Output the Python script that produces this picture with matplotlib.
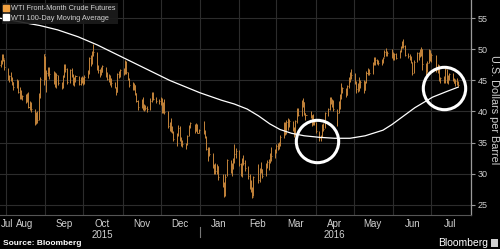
import matplotlib
matplotlib.use('Agg')
import matplotlib.pyplot as plt
import matplotlib.dates as mdates
import matplotlib.ticker as mticker
from matplotlib.lines import Line2D
from matplotlib.patches import Rectangle
import pandas as pd

# ---------------- data ----------------
holidays = ['2015-09-07', '2015-11-26', '2015-12-25', '2016-01-01', '2016-01-18',
            '2016-02-15', '2016-03-25', '2016-05-30', '2016-07-04']
dates = pd.bdate_range('2015-07-27', '2016-07-22')
dates = dates[~dates.isin(pd.to_datetime(holidays))]

close = [
    47.39, 47.98, 48.79, 48.52, 47.12,
    45.17, 45.74, 45.15, 44.66, 43.87,
    44.96, 43.08, 43.30, 42.23, 42.50,
    41.87, 42.62, 40.80, 41.14, 40.45,
    38.24, 39.31, 38.60, 42.56, 45.22,
    49.20, 45.41, 46.25, 46.75, 46.05,
    45.94, 44.15, 45.92, 44.63,
    44.00, 45.59, 47.15, 46.90, 44.68,
    46.68, 45.83, 44.48, 45.22, 45.70,
    44.43, 45.23, 45.09, 44.74, 45.54,
    46.26, 48.53, 47.81, 49.43, 49.63,
    47.10, 46.66, 46.64, 46.38, 47.26,
    45.89, 45.29, 45.20, 44.38, 44.60,
    43.98, 43.20, 45.94, 46.06, 46.59,
    46.14, 47.90, 46.32, 45.20, 44.29,
    43.87, 44.21, 42.93, 41.75, 40.74,
    41.74, 40.67, 40.75, 40.54, 40.39,
    41.75, 42.87, 42.04, 41.71,
    41.65, 41.85, 39.94, 41.08, 39.97,
    37.65, 37.51, 37.16, 36.76, 35.62,
    36.31, 37.35, 35.52, 34.95, 34.73,
    34.74, 36.14, 37.50, 38.10,
    36.81, 37.87, 36.60, 37.04,
    36.76, 35.97, 33.97, 33.27, 33.16,
    31.41, 30.44, 30.48, 31.20, 29.42,
    28.46, 26.55, 29.53, 32.19,
    30.34, 31.45, 32.30, 33.22, 33.62,
    31.62, 29.88, 32.28, 31.72, 30.89,
    29.69, 27.94, 27.45, 26.21, 29.44,
    29.04, 30.66, 30.77, 29.64,
    31.48, 31.87, 32.15, 33.07, 32.78,
    33.75, 34.40, 34.66, 34.57, 35.92,
    37.90, 36.50, 38.29, 37.84, 38.50,
    37.18, 36.34, 38.46, 40.20, 39.44,
    41.52, 41.45, 39.79, 39.46,
    39.39, 38.28, 38.32, 38.34, 36.79,
    35.70, 35.89, 37.75, 37.26, 39.72,
    40.36, 42.17, 41.76, 41.50, 40.36,
    39.78, 41.08, 42.63, 43.18, 43.73,
    42.64, 44.04, 45.33, 46.03, 45.92,
    44.78, 43.65, 43.78, 44.32, 44.66,
    43.44, 44.66, 46.23, 46.70, 46.21,
    47.72, 48.31, 48.19, 48.16, 47.75,
    48.08, 48.62, 49.56, 49.48, 49.33,
    49.10, 49.01, 49.17, 48.62,
    49.69, 50.36, 51.23, 50.56, 49.07,
    48.88, 48.49, 48.01, 46.21, 47.98,
    49.37, 48.85, 49.13, 50.11, 47.64,
    46.33, 47.85, 49.88, 48.33, 48.99,
    46.60, 47.43, 45.14, 45.41,
    44.76, 46.80, 44.75, 45.68, 45.95,
    45.24, 44.65, 44.94, 44.75, 44.19,
]

low = [
    47.20, 47.10, 47.60, 48.10, 46.70,
    45.00, 44.80, 44.90, 44.30, 43.40,
    43.70, 42.90, 42.00, 42.00, 41.90,
    41.40, 41.60, 40.50, 40.30, 39.90,
    37.75, 38.00, 38.10, 38.60, 42.20,
    44.20, 45.00, 43.20, 45.70, 45.20,
    44.40, 44.00, 43.80, 44.30,
    43.60, 43.70, 45.50, 46.40, 44.40,
    44.50, 45.60, 44.30, 44.10, 44.80,
    44.20, 44.30, 44.60, 44.20, 44.40,
    45.30, 46.00, 47.30, 47.70, 48.90,
    46.70, 46.20, 45.50, 45.90, 46.30,
    45.60, 45.00, 44.70, 44.20, 44.00,
    43.70, 42.60, 43.10, 45.40, 45.60,
    45.90, 46.00, 46.00, 45.00, 44.00,
    43.50, 43.40, 42.60, 41.50, 40.20,
    40.50, 40.30, 40.00, 40.20, 39.90,
    40.20, 41.60, 41.80, 41.30,
    41.20, 41.00, 39.70, 39.80, 39.60,
    37.30, 36.80, 36.70, 36.50, 35.20,
    34.50, 36.00, 35.30, 34.50, 34.30,
    34.00, 34.60, 36.00, 37.30,
    36.60, 36.80, 36.50, 36.50,
    36.40, 35.70, 33.80, 32.10, 32.80,
    30.90, 29.90, 29.90, 30.00, 29.00,
    27.90, 26.20, 26.50, 29.70,
    30.10, 29.70, 30.70, 31.70, 32.60,
    31.20, 29.60, 29.50, 31.40, 30.50,
    29.20, 27.50, 27.10, 26.05, 26.40,
    28.50, 28.60, 30.10, 29.30,
    29.60, 30.90, 30.60, 31.80, 32.10,
    32.60, 33.30, 33.80, 34.00, 34.40,
    35.80, 36.20, 36.40, 37.10, 37.50,
    36.80, 35.90, 36.30, 38.10, 39.20,
    39.20, 40.80, 39.50, 38.70,
    39.00, 37.70, 37.90, 37.90, 36.50,
    35.20, 35.20, 35.90, 36.80, 37.30,
    39.30, 40.20, 41.20, 40.70, 40.00,
    37.60, 39.80, 40.40, 42.00, 43.00,
    42.30, 42.60, 43.80, 44.80, 45.20,
    44.40, 43.00, 43.20, 43.30, 43.80,
    43.00, 43.50, 44.50, 45.90, 45.80,
    46.00, 47.50, 47.50, 47.60, 47.40,
    47.50, 47.80, 48.70, 48.90, 48.90,
    48.60, 48.20, 48.30, 48.40,
    48.60, 49.60, 50.20, 50.20, 48.90,
    48.60, 48.20, 47.80, 45.80, 46.20,
    48.00, 48.30, 48.70, 48.90, 46.70,
    45.80, 46.30, 47.80, 48.10, 48.00,
    46.30, 46.10, 44.90, 44.60,
    44.50, 44.60, 44.50, 44.40, 45.00,
    44.90, 44.50, 44.10, 44.20, 43.90,
]

high = [
    48.30, 48.20, 49.20, 49.30, 48.40,
    47.00, 45.90, 46.30, 45.60, 44.80,
    45.20, 45.10, 43.90, 43.40, 42.70,
    42.80, 42.90, 43.10, 41.70, 41.50,
    40.40, 39.90, 40.10, 42.90, 45.50,
    49.30, 48.90, 46.70, 47.20, 47.10,
    46.50, 46.40, 46.10, 45.80,
    44.80, 45.80, 47.60, 47.70, 47.00,
    46.90, 47.00, 46.00, 45.50, 45.90,
    45.70, 45.50, 45.70, 45.50, 45.80,
    46.60, 48.80, 49.10, 49.70, 50.90,
    49.50, 47.40, 46.90, 47.10, 47.50,
    47.10, 46.30, 46.00, 45.80, 45.40,
    44.80, 44.00, 46.20, 46.50, 46.80,
    47.00, 48.20, 48.10, 46.40, 45.40,
    44.80, 44.50, 44.30, 43.00, 41.90,
    42.00, 42.40, 41.20, 41.00, 40.90,
    42.10, 43.20, 43.10, 42.30,
    42.00, 42.30, 42.10, 41.60, 42.00,
    40.00, 38.30, 38.90, 37.60, 36.90,
    36.50, 37.80, 37.60, 35.90, 35.40,
    35.00, 36.30, 37.80, 38.30,
    38.00, 38.10, 38.00, 37.20,
    38.40, 37.00, 36.00, 34.30, 34.30,
    33.30, 31.60, 31.70, 31.50, 31.20,
    30.00, 28.70, 29.90, 32.40,
    32.20, 31.70, 32.60, 34.80, 34.10,
    33.80, 31.70, 32.60, 33.00, 32.20,
    31.30, 29.90, 29.00, 27.90, 29.70,
    31.50, 31.00, 31.90, 30.80,
    31.70, 32.20, 32.40, 33.40, 34.30,
    34.00, 34.70, 35.00, 35.10, 36.20,
    38.30, 38.30, 38.60, 38.90, 38.80,
    38.50, 37.50, 38.70, 40.60, 40.60,
    41.80, 42.10, 41.60, 39.80,
    40.00, 39.50, 39.60, 38.80, 38.30,
    36.90, 36.30, 38.00, 38.10, 39.90,
    40.60, 42.40, 42.40, 42.00, 41.80,
    40.40, 41.70, 42.80, 44.50, 43.90,
    43.70, 44.20, 45.60, 46.40, 46.80,
    46.20, 44.90, 44.50, 45.50, 45.00,
    45.10, 44.90, 46.50, 47.00, 46.90,
    48.00, 48.70, 48.70, 48.40, 48.30,
    48.50, 48.80, 49.80, 50.20, 49.70,
    50.00, 49.60, 49.40, 49.40,
    49.90, 50.50, 51.30, 51.70, 50.70,
    49.40, 49.20, 48.90, 48.00, 48.20,
    49.60, 49.60, 50.00, 50.40, 50.00,
    47.80, 48.10, 50.00, 49.90, 49.40,
    49.00, 47.70, 47.50, 45.60,
    45.70, 47.00, 46.80, 45.90, 46.20,
    46.20, 45.40, 45.20, 45.30, 44.90,
]

# 100-day moving average
ma_dates = pd.to_datetime([
    '2015-07-27', '2015-08-12', '2015-08-28', '2015-09-11', '2015-09-27',
    '2015-10-12', '2015-10-25', '2015-11-07', '2015-11-22', '2015-12-08',
    '2015-12-20', '2016-01-01', '2016-01-18', '2016-01-28', '2016-02-07',
    '2016-02-16', '2016-02-25', '2016-03-04', '2016-03-13', '2016-03-23',
    '2016-04-04', '2016-04-16', '2016-04-28', '2016-05-10', '2016-05-24',
    '2016-05-31', '2016-06-06', '2016-06-18', '2016-07-02', '2016-07-13',
    '2016-07-22'])
ma_values = [55.0, 54.4, 53.8, 53.1, 52.0,
             50.7, 49.4, 48.1, 46.6, 45.0,
             44.0, 43.0, 41.8, 41.2, 40.4,
             39.3, 38.0, 37.1, 36.5, 36.1,
             35.85, 35.7, 35.7, 36.1, 37.0,
             37.9, 38.8, 40.6, 42.3, 43.2,
             43.9]

# highlighted points (circles)
circle_dates = pd.to_datetime(['2016-04-02', '2016-07-11'])
circle_values = [35.3, 43.85]

label_dates = pd.to_datetime([
    '2015-08-02', '2015-08-16', '2015-09-16', '2015-10-16', '2015-11-16',
    '2015-12-16', '2016-01-16', '2016-02-15', '2016-03-16', '2016-04-16',
    '2016-05-16', '2016-06-16', '2016-07-16'])
month_labels = ['Jul', 'Aug', 'Sep', 'Oct\n2015', 'Nov', 'Dec', 'Jan', 'Feb',
                'Mar', 'Apr\n2016', 'May', 'Jun', 'Jul']

y_ticks = [25, 30, 35, 40, 45, 50, 55]

# ---------------- styling ----------------
BG = '#000000'
BAR = '#c4843a'
GRID = '#2c2c2c'
TXT = '#d0d0d0'
FONT = ['Liberation Sans Narrow', 'Liberation Sans', 'DejaVu Sans']

plt.rcParams['font.family'] = ['Liberation Sans', 'DejaVu Sans']

W, H = 500, 249
fig = plt.figure(figsize=(W / 100, H / 100), dpi=100, facecolor=BG)
ax = fig.add_axes([0.0, 1 - 215 / H, 471 / W, 215 / H])
ax.set_facecolor(BG)

x = mdates.date2num(dates)
ax.vlines(x, low, high, colors=BAR, lw=0.7, zorder=3)
ax.hlines(close, x, x + 0.8, colors=BAR, lw=0.6, zorder=3)

ax.plot(mdates.date2num(ma_dates), ma_values, color='white', lw=0.9, zorder=4,
        solid_joinstyle='round')

ax.plot(mdates.date2num(circle_dates), circle_values, linestyle='none', marker='o',
        ms=30.5, mfc='none', mec='white', mew=2.2, zorder=5, clip_on=False)

ax.set_xlim(mdates.date2num(pd.Timestamp('2015-07-27 14:00')),
            mdates.date2num(pd.Timestamp('2016-08-01 06:00')))
ax.set_ylim(23.38, 57.9)

# axes / ticks
ax.yaxis.tick_right()
ax.set_yticks(y_ticks)
ax.yaxis.set_major_formatter(mticker.FormatStrFormatter('%d'))
ax.tick_params(axis='y', which='major', direction='out', length=3, width=0.8,
               color='#9a9a9a', labelcolor=TXT, labelsize=6.5, pad=2)
for t in ax.get_yticklabels():
    t.set_fontfamily(FONT)

ax.xaxis.set_major_locator(mdates.MonthLocator())
ax.xaxis.set_major_formatter(mticker.NullFormatter())
ax.xaxis.set_minor_locator(mticker.FixedLocator(mdates.date2num(label_dates)))
ax.xaxis.set_minor_formatter(mticker.FixedFormatter(month_labels))
ax.tick_params(axis='x', which='both', length=0, labelcolor=TXT, labelsize=7, pad=3)
for t in ax.get_xticklabels(minor=True):
    t.set_fontfamily(FONT)
    t.set_linespacing(1.05)

ax.grid(True, which='major', color=GRID, lw=0.8, zorder=0)
ax.set_axisbelow(True)

for s in ['top', 'left']:
    ax.spines[s].set_visible(False)
ax.spines['right'].set_color('#9a9a9a')
ax.spines['right'].set_linewidth(0.9)
ax.spines['bottom'].set_color('#555555')
ax.spines['bottom'].set_linewidth(0.8)

# year divider below axis at Jan 1
ax.plot([mdates.date2num(pd.Timestamp('2016-01-01'))] * 2, [-0.056, -0.102],
        transform=ax.get_xaxis_transform(), color='#777777', lw=0.8, clip_on=False)

fig.text(494 / W, 1 - 110 / H, 'U.S. Dollars per Barrel', rotation=270,
         ha='center', va='center', color=TXT, fontsize=7.8)

# legend
handles = [Line2D([], [], linestyle='none', marker='s', ms=4, mfc='#f0a040', mec='#f0a040'),
           Line2D([], [], linestyle='none', marker='s', ms=4, mfc='white', mec='white')]
leg = ax.legend(handles, ['WTI Front-Month Crude Futures', 'WTI 100-Day Moving Average'],
                loc='upper left', bbox_to_anchor=(2 / 471, 1 - 3 / 215), fontsize=5.3,
                frameon=True, facecolor='#1c1c1c', edgecolor='none', framealpha=0.9,
                handlelength=0.6, handletextpad=0.3, borderpad=0.3, labelspacing=0.3,
                borderaxespad=0, fancybox=False)
for t in leg.get_texts():
    t.set_color(TXT)
leg.set_zorder(6)

# footer
fig.text(3 / W, 1 - 243 / H, 'Source: Bloomberg', ha='left', va='center',
         color='white', fontsize=6, fontweight='bold')
fig.text(488 / W, 1 - 242.5 / H, 'Bloomberg', ha='right', va='center',
         color='white', fontsize=7.5)
fig.patches.append(Rectangle((490.5 / W, 1 - 246.5 / H), 7 / W, 8 / H,
                             transform=fig.transFigure, facecolor='#cfcfcf',
                             edgecolor='none'))

fig.savefig('out.png', dpi=100, facecolor=BG)
